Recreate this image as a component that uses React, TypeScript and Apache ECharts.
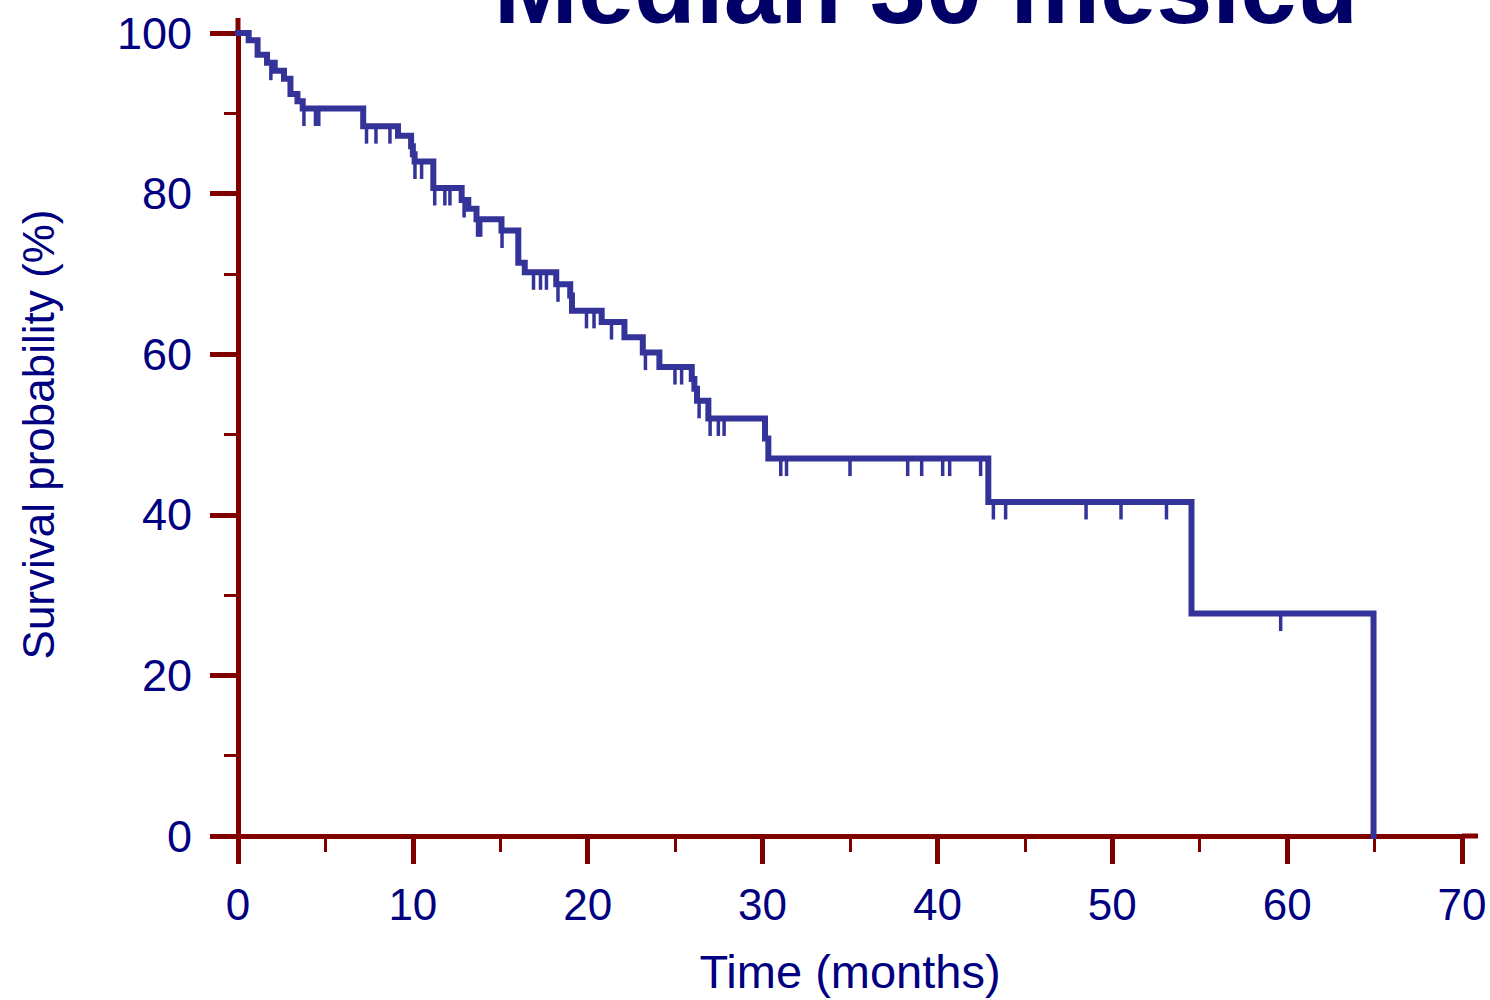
import React, { useEffect, useRef } from "react";
import * as echarts from "echarts";

// Kaplan-Meier step curve: time (months) where the level begins, and survival (%) from then on
const stepTimes = [
  0, 0.61, 1.12, 1.66, 2.1, 2.63, 3.0, 3.4, 3.7, 7.16, 9.15, 9.9, 10.0, 10.1, 11.17,
  12.79, 13.17, 13.64, 15.07, 16.03, 16.4, 18.2, 19.0, 19.1, 20.8, 22.1, 23.15, 24.1,
  25.95, 26.1, 26.25, 26.9, 30.14, 30.33, 42.91, 54.53, 64.94,
];
const stepSurvival = [
  100, 99.1, 97.3, 96.3, 95.3, 94.3, 92.4, 91.5, 90.6, 88.4, 87.2, 85.9, 84.9, 84.0, 80.7,
  79.2, 78.1, 76.8, 75.4, 71.4, 70.2, 68.7, 67.3, 65.4, 64.0, 62.1, 60.2, 58.4,
  56.9, 55.7, 54.2, 52.0, 49.5, 47.0, 41.6, 27.7, 0,
];

// Censored observations (months)
const censorTimes = [
  1.88, 3.77, 4.43, 4.62, 7.35, 7.89, 8.69, 10.12, 10.5, 11.25, 11.83, 12.12, 12.93,
  13.7, 13.88, 15.1, 16.9, 17.3, 17.64, 18.3, 19.93, 20.36, 21.36, 23.3, 24.99, 25.37,
  26.37, 27.0, 27.47, 27.8, 31.04, 31.37, 35.0, 38.3, 39.1, 40.3, 40.7, 42.47, 43.2,
  43.9, 48.5, 50.5, 53.1, 59.63,
];

const titleText = "Median 30 mesicu";
const xAxisName = "Time (months)";
const yAxisName = "Survival probability (%)";

const CURVE = "#333399";
const AXIS = "#800000";
const LABEL = "#000080";
const FONT = "'Liberation Sans', Arial, sans-serif";

function levelAt(t: number): number {
  let v = stepSurvival[0];
  for (let i = 0; i < stepTimes.length; i++) {
    if (stepTimes[i] <= t) v = stepSurvival[i];
  }
  return v;
}

export default function App() {
  const ref = useRef<HTMLDivElement>(null);
  useEffect(() => {
    if (!ref.current) return;
    const chart = echarts.init(ref.current, undefined, { renderer: "svg" });
    const curve = stepTimes.map((t, i) => [t, stepSurvival[i]]);
    const censors = censorTimes.map((t) => [t, levelAt(t)]);
    const titleGraphic = {
      id: "title",
      type: "text",
      x: 926,
      y: -12,
      style: {
        text: titleText,
        fontFamily: FONT,
        fontWeight: "bold",
        fontSize: 101,
        fill: "#000066",
        textAlign: "center",
        textVerticalAlign: "middle",
      },
      z: 10,
    };
    chart.setOption({
      animation: false,
      backgroundColor: "#ffffff",
      grid: { left: 238, right: 28, top: 33, bottom: 161 },
      xAxis: {
        type: "value",
        min: 0,
        max: 70,
        interval: 10,
        name: xAxisName,
        nameLocation: "middle",
        nameGap: 112,
        nameTextStyle: { color: LABEL, fontSize: 47, fontFamily: FONT },
        axisLine: { onZero: false, lineStyle: { color: AXIS, width: 5 } },
        axisTick: { show: true, length: 28, lineStyle: { color: AXIS, width: 5 } },
        minorTick: { show: true, splitNumber: 2, length: 16, lineStyle: { color: AXIS, width: 3 } },
        splitLine: { show: false },
        minorSplitLine: { show: false },
        axisLabel: { color: LABEL, fontSize: 44, fontFamily: FONT, margin: 46 },
      },
      yAxis: {
        type: "value",
        min: 0,
        max: 100,
        interval: 20,
        name: yAxisName,
        nameLocation: "middle",
        nameGap: 178,
        nameTextStyle: { color: LABEL, fontSize: 44, fontFamily: FONT },
        axisLine: { onZero: false, lineStyle: { color: AXIS, width: 5 } },
        axisTick: { show: true, length: 28, lineStyle: { color: AXIS, width: 5 } },
        minorTick: { show: true, splitNumber: 2, length: 14, lineStyle: { color: AXIS, width: 3 } },
        splitLine: { show: false },
        minorSplitLine: { show: false },
        axisLabel: { color: LABEL, fontSize: 45, fontFamily: FONT, margin: 46 },
      },
      series: [
        {
          type: "line",
          data: curve,
          step: "end",
          showSymbol: false,
          clip: false,
          lineStyle: { color: CURVE, width: 6, cap: "square", join: "miter" },
          z: 5,
        },
        {
          type: "scatter",
          data: censors,
          symbol: "rect",
          symbolSize: [3.5, 17],
          symbolOffset: [0, 9],
          itemStyle: { color: CURVE, opacity: 1 },
          clip: false,
          z: 4,
        },
      ],
      graphic: [titleGraphic],
    });
    const p0 = chart.convertToPixel({ gridIndex: 0 }, [0, 100]) as number[];
    const p1 = chart.convertToPixel({ gridIndex: 0 }, [70, 0]) as number[];
    chart.setOption({
      graphic: [
        titleGraphic,
        {
          id: "yext",
          type: "line",
          shape: { x1: p0[0], y1: p0[1], x2: p0[0], y2: p0[1] - 15 },
          style: { stroke: AXIS, lineWidth: 5 },
          z: 1,
        },
        {
          id: "xext",
          type: "line",
          shape: { x1: p1[0], y1: p1[1], x2: p1[0] + 16, y2: p1[1] },
          style: { stroke: AXIS, lineWidth: 5 },
          z: 1,
        },
      ],
    });
    return () => chart.dispose();
  }, []);
  return <div ref={ref} style={{ width: 1490, height: 1000, position: "absolute", left: 0, top: 0 }} />;
}
